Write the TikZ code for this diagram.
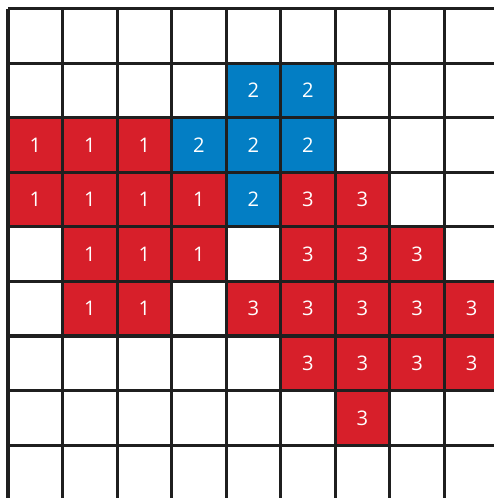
\documentclass[tikz,border=0pt]{standalone}
\usepackage{fontspec}
\setmainfont{Open Sans}
\usepackage{xcolor}
\usetikzlibrary{positioning}

\definecolor{cellred}{RGB}{215,31,42}
\definecolor{cellblue}{RGB}{3,126,196}

\begin{document}
\begin{tikzpicture}[
    one/.style={rectangle, fill=cellred, text=white, minimum size=1cm, inner sep=0pt, font=\fontsize{10.5}{12}\selectfont},
    two/.style={rectangle, fill=cellblue, text=white, minimum size=1cm, inner sep=0pt, font=\fontsize{10.5}{12}\selectfont},
    three/.style={one},
    gridline/.style={line width=1.6pt, draw=black!88}
]
\useasboundingbox (-0.147,0.03) rectangle (8.899,9.162);

% Region 2 (blue)
\node[two] (b14) at (4.5,7.5) {2};
\node[two] (b15) at (5.5,7.5) {2};
\node[two] (b23) at (3.5,6.5) {2};
\node[two] (b24) at (4.5,6.5) {2};
\node[two] (b25) at (5.5,6.5) {2};
\node[two] (b34) at (4.5,5.5) {2};

% Region 1 (red)
\node[one] (a20) at (0.5,6.5) {1};
\node[one] (a21) at (1.5,6.5) {1};
\node[one] (a22) at (2.5,6.5) {1};
\node[one] (a30) at (0.5,5.5) {1};
\node[one] (a31) at (1.5,5.5) {1};
\node[one] (a32) at (2.5,5.5) {1};
\node[one] (a33) at (3.5,5.5) {1};
\node[one] (a41) at (1.5,4.5) {1};
\node[one] (a42) at (2.5,4.5) {1};
\node[one] (a43) at (3.5,4.5) {1};
\node[one] (a51) at (1.5,3.5) {1};
\node[one] (a52) at (2.5,3.5) {1};

% Region 3 (red)
\node[three] (c35) at (5.5,5.5) {3};
\node[three] (c36) at (6.5,5.5) {3};
\node[three] (c45) at (5.5,4.5) {3};
\node[three] (c46) at (6.5,4.5) {3};
\node[three] (c47) at (7.5,4.5) {3};
\node[three] (c54) at (4.5,3.5) {3};
\node[three] (c55) at (5.5,3.5) {3};
\node[three] (c56) at (6.5,3.5) {3};
\node[three] (c57) at (7.5,3.5) {3};
\node[three] (c58) at (8.5,3.5) {3};
\node[three] (c65) at (5.5,2.5) {3};
\node[three] (c66) at (6.5,2.5) {3};
\node[three] (c67) at (7.5,2.5) {3};
\node[three] (c68) at (8.5,2.5) {3};
\node[three] (c76) at (6.5,1.5) {3};

% Grid
\draw[gridline] (0,0) grid (9,9);

\end{tikzpicture}
\end{document}
